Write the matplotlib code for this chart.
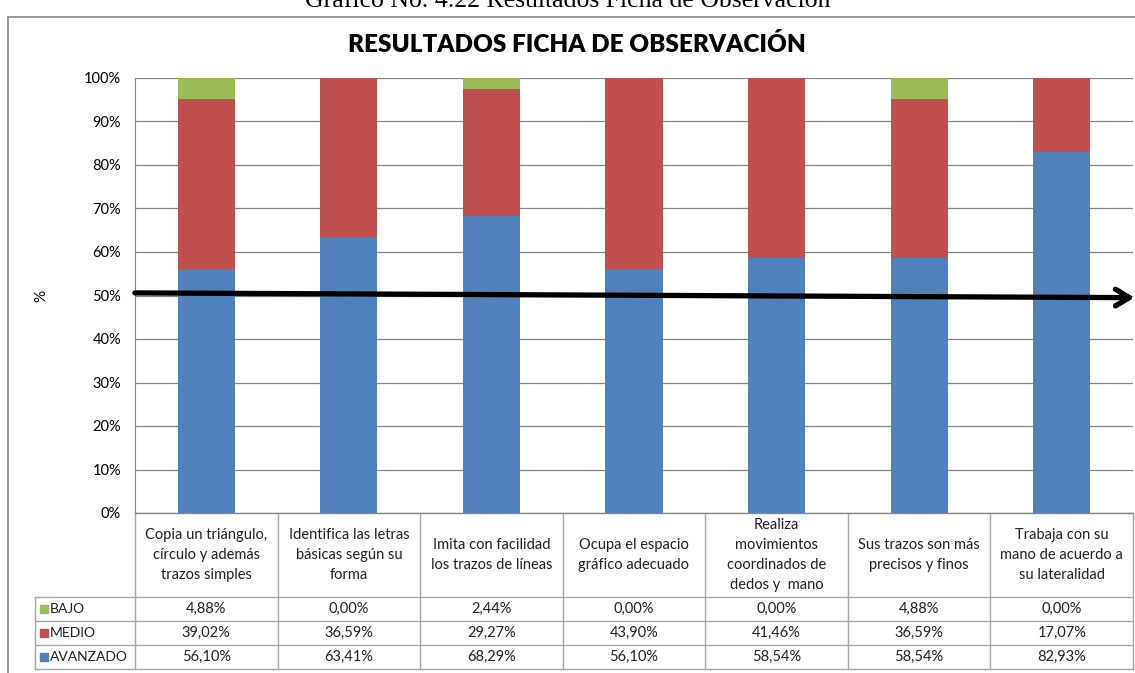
import matplotlib
matplotlib.use("Agg")
import matplotlib.pyplot as plt
from matplotlib.lines import Line2D
from matplotlib.patches import Rectangle
import numpy as np

# data
categories = [
    "Copia un triángulo,\ncírculo y además\ntrazos simples",
    "Identifica las letras\nbásicas según su\nforma",
    "Imita con facilidad\nlos trazos de líneas",
    "Ocupa el espacio\ngráfico adecuado",
    "Realiza\nmovimientos\ncoordinados de\ndedos y  mano",
    "Sus trazos son más\nprecisos y finos",
    "Trabaja con su\nmano de acuerdo a\nsu lateralidad",
]
avanzado = [56.10, 63.41, 68.29, 56.10, 58.54, 58.54, 82.93]
medio = [39.02, 36.59, 29.27, 43.90, 41.46, 36.59, 17.07]
bajo = [4.88, 0.00, 2.44, 0.00, 0.00, 4.88, 0.00]
series = [("BAJO", bajo, "#9BBB59"), ("MEDIO", medio, "#C0504D"), ("AVANZADO", avanzado, "#4F81BD")]
yticks = list(range(0, 101, 10))

W, H = 1135, 673
FONT = "Lato"


def fx(px):
    return px / W


def fy(py):
    return 1 - py / H


fig = plt.figure(figsize=(W / 100, H / 100), dpi=100)
fig.patch.set_facecolor("white")

# caption above the chart (cut off at the top in the original)
fig.text(0.5, fy(1), "Gráfico No. 4.22 Resultados Ficha de Observación", ha="center", va="center",
         family="Liberation Serif", fontsize=18.5)

# chart outer frame
fig.add_artist(Line2D([fx(8), fx(1135)], [fy(17), fy(17)], color="#868686", lw=1.2))
fig.add_artist(Line2D([fx(8), fx(8)], [fy(17), fy(673)], color="#868686", lw=1.2))

fig.text(fx(577), fy(44), "RESULTADOS FICHA DE OBSERVACIÓN", ha="center", va="center",
         family=FONT, fontweight="heavy", fontsize=17.5)

x0, x1, ytop, ybot = 135, 1133, 78, 513
ax = fig.add_axes([fx(x0), fy(ybot), fx(x1 - x0), (ybot - ytop) / H])
x = np.arange(len(categories))
bottom = np.zeros(len(categories))
for name, vals, col in reversed(series):
    ax.bar(x, vals, 0.4, bottom=bottom, color=col, zorder=2)
    bottom += np.array(vals)
ax.set_xlim(-0.5, len(categories) - 0.5)
ax.set_ylim(0, 100)
ax.set_yticks(yticks)
ax.set_yticklabels([f"{t}%" for t in yticks], family=FONT, fontsize=10.5)
ax.yaxis.grid(True, color="#868686", lw=0.9, zorder=0)
ax.set_xticks([])
ax.tick_params(axis="y", length=0, pad=10)
for s in ("top", "right", "bottom"):
    ax.spines[s].set_visible(False)
ax.spines["left"].set_color("#868686")
ax.set_ylabel("%", family=FONT, fontsize=11, labelpad=26)

# the hand-drawn 50% arrow
ax.annotate("", xy=(6.53, 49.5), xytext=(-0.52, 50.6), annotation_clip=False,
            arrowprops=dict(arrowstyle="->,head_length=1.0,head_width=0.6", color="black", lw=3.8))

# data table below the plot
cols = [x0 + (x1 - x0) * i / len(categories) for i in range(len(categories) + 1)]
rows = [513, 597, 621, 645, 669]
lc = "#A6A6A6"
for cx in cols:
    fig.add_artist(Line2D([fx(cx), fx(cx)], [fy(rows[0]), fy(rows[-1])], color=lc, lw=1))
fig.add_artist(Line2D([fx(35), fx(35)], [fy(rows[1]), fy(rows[-1])], color=lc, lw=1))
fig.add_artist(Line2D([fx(x0), fx(x1)], [fy(rows[0]), fy(rows[0])], color="#868686", lw=1))
for ry in rows[1:]:
    fig.add_artist(Line2D([fx(35), fx(x1)], [fy(ry), fy(ry)], color=lc, lw=1))

for i, cat in enumerate(categories):
    cx = (cols[i] + cols[i + 1]) / 2
    fig.text(fx(cx), fy((rows[0] + rows[1]) / 2), cat, ha="center", va="center",
             family=FONT, fontsize=10.5, linespacing=1.55, color="#222222")

for r, (name, vals, col) in enumerate(series):
    ymid = (rows[r + 1] + rows[r + 2]) / 2
    fig.add_artist(Rectangle((fx(40), fy(ymid + 4)), fx(8), 8 / H, color=col))
    fig.text(fx(50), fy(ymid), name, ha="left", va="center", family=FONT, fontsize=10, color="#222222")
    for i, v in enumerate(vals):
        cx = (cols[i] + cols[i + 1]) / 2
        fig.text(fx(cx), fy(ymid), f"{v:.2f}%".replace(".", ","), ha="center", va="center",
                 family=FONT, fontsize=10.5, color="#222222")

fig.savefig("out.png", dpi=100)
